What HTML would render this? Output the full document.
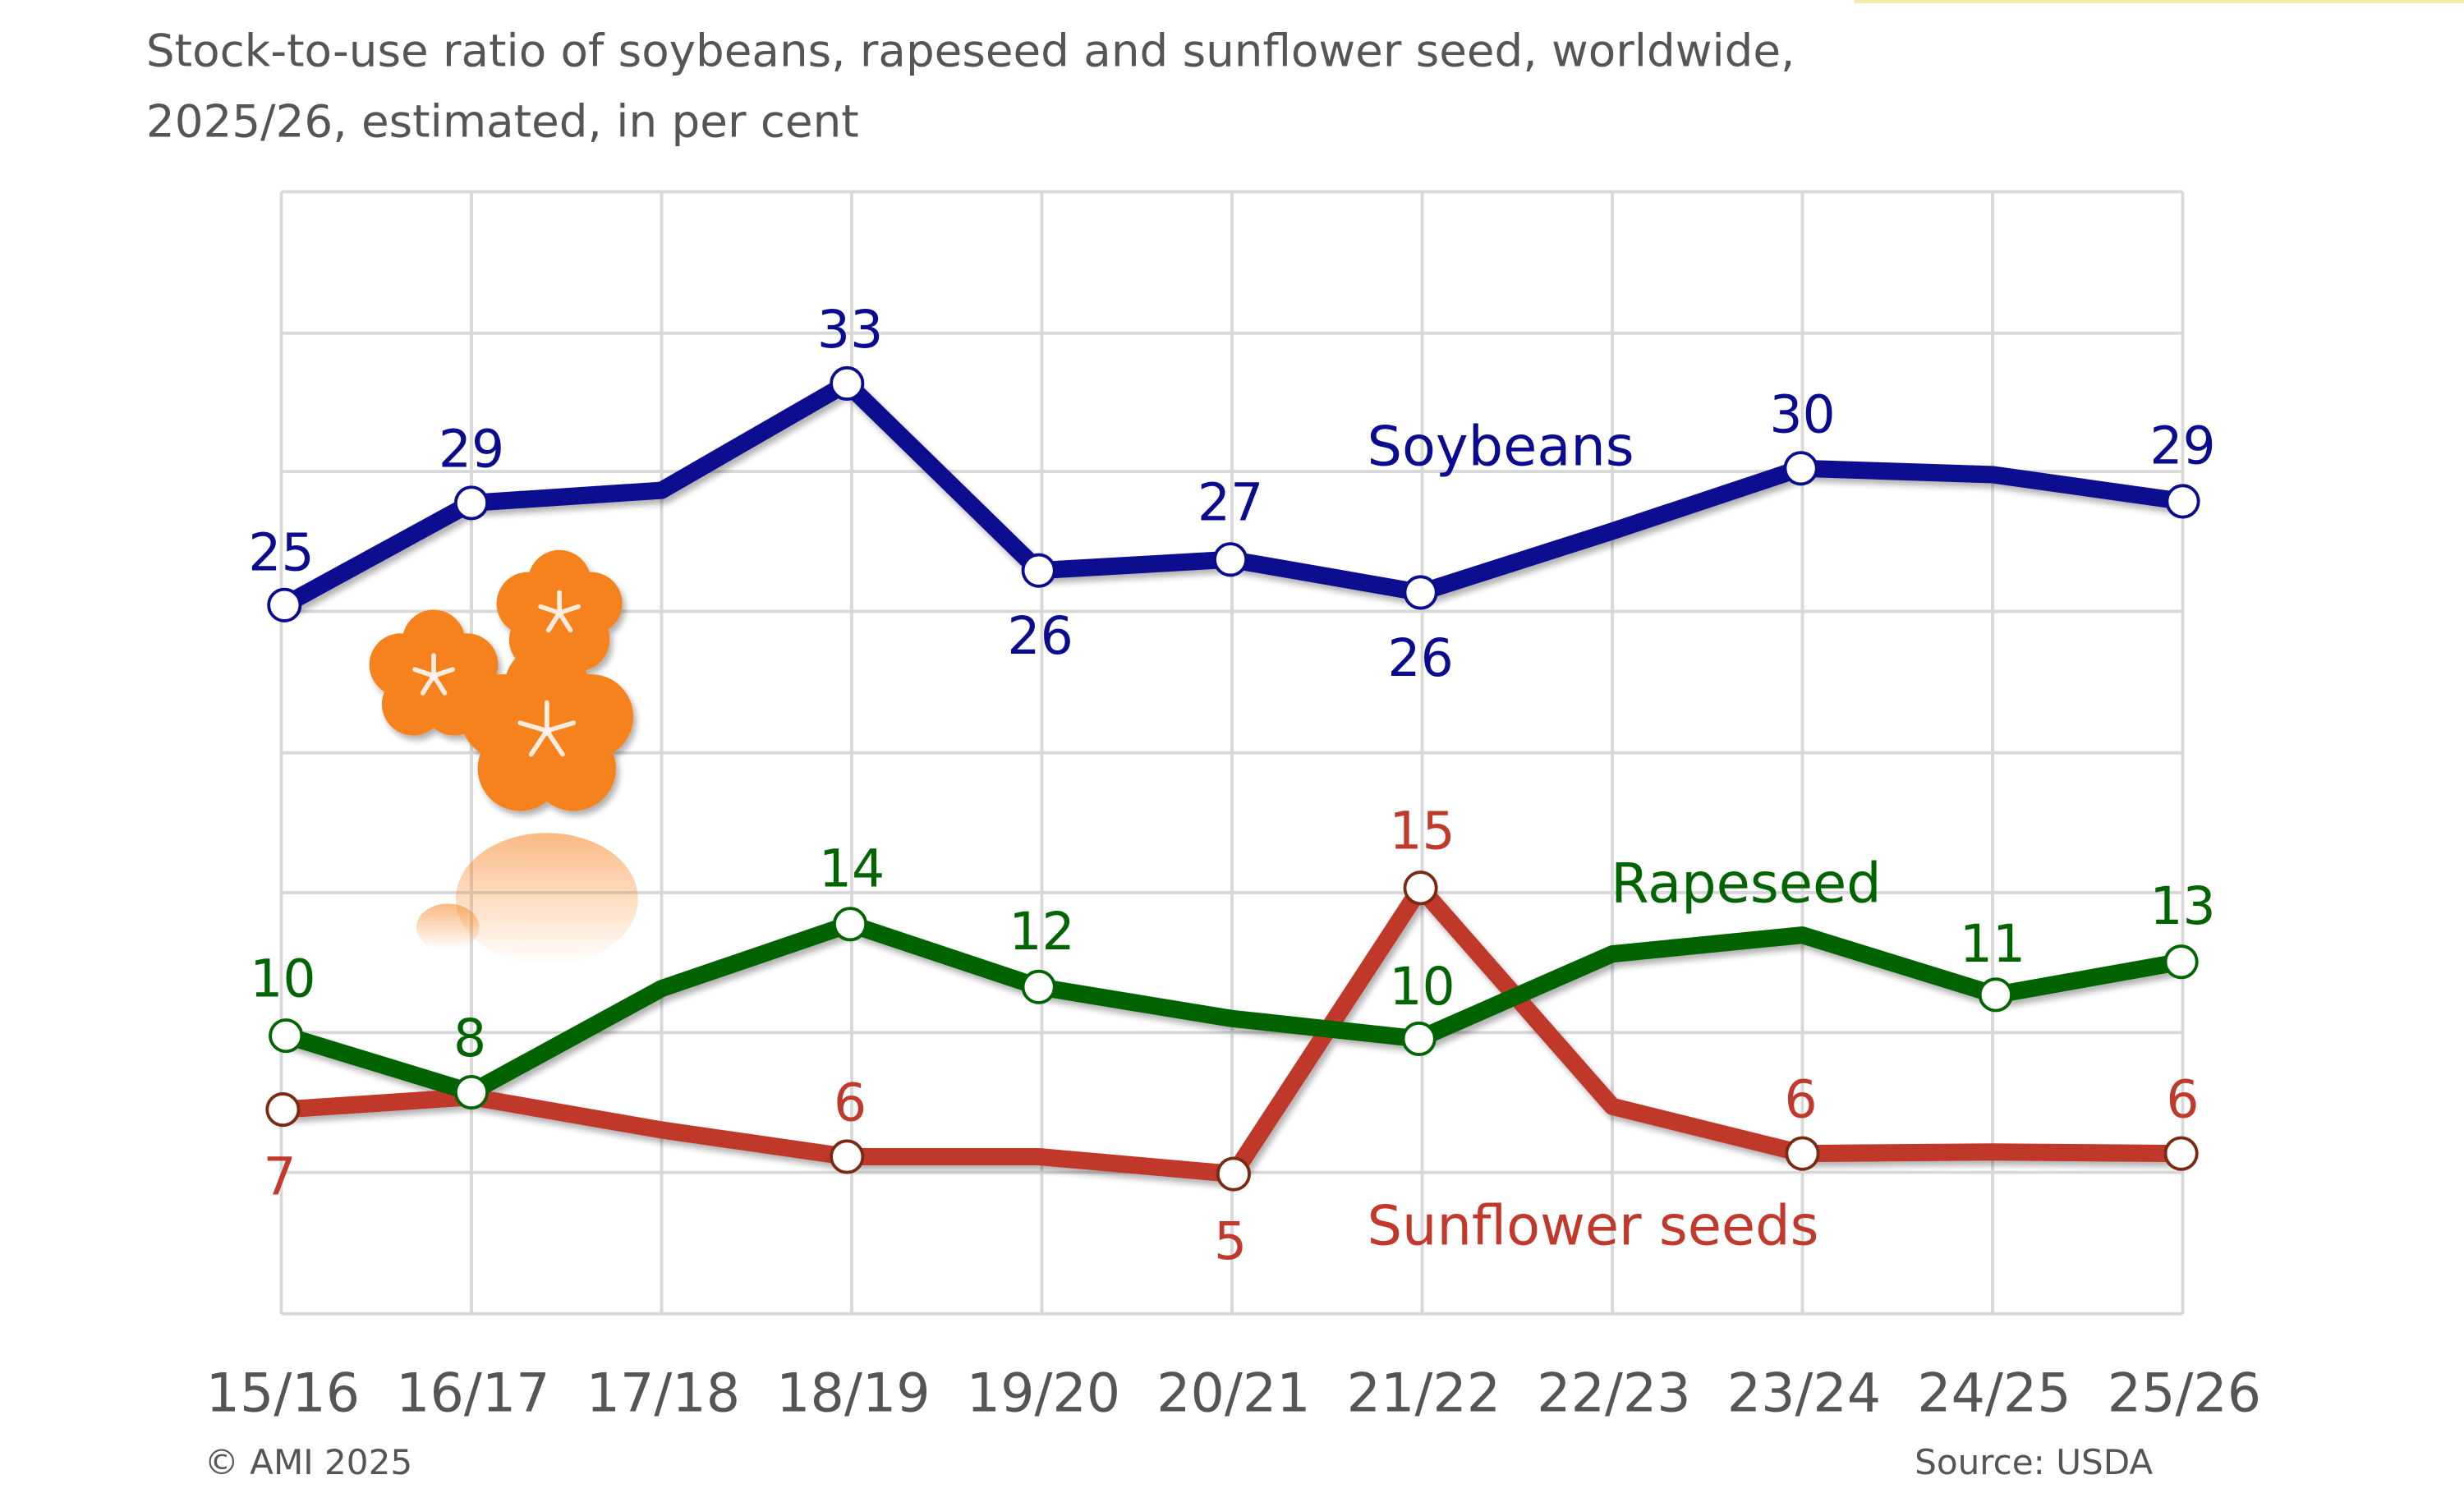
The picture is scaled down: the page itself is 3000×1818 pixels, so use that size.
<!DOCTYPE html>
<html><head><meta charset="utf-8"><style>
html,body{margin:0;padding:0;background:#fff;}
svg{display:block;}
text{font-family:"DejaVu Sans","Liberation Sans",sans-serif;}
</style></head><body>
<svg width="3000" height="1818" viewBox="0 0 1568 950" preserveAspectRatio="none" xmlns="http://www.w3.org/2000/svg">
<defs>
<linearGradient id="fade" x1="0" y1="0" x2="0" y2="1">
<stop offset="0" stop-color="#f5821f" stop-opacity="0.55"/>
<stop offset="1" stop-color="#f5821f" stop-opacity="0"/>
</linearGradient>
<filter id="sh" x="-20%" y="-20%" width="140%" height="140%"><feDropShadow dx="2" dy="3" stdDeviation="2" flood-opacity="0.3"/></filter>
</defs>
<line x1="1180" y1="1" x2="1568" y2="1" stroke="#f3e9a8" stroke-width="2"/>
<text x="93" y="42" font-size="28.6" fill="#555">Stock-to-use ratio of soybeans, rapeseed and sunflower seed, worldwide,</text>
<text x="93" y="87" font-size="28.6" fill="#555">2025/26, estimated, in per cent</text>
<g stroke="#d8d8d8" stroke-width="2">
<line x1="179" y1="122" x2="1389" y2="122"/><line x1="179" y1="212" x2="1389" y2="212"/>
<line x1="179" y1="300" x2="1389" y2="300"/><line x1="179" y1="389" x2="1389" y2="389"/>
<line x1="179" y1="479" x2="1389" y2="479"/><line x1="179" y1="568" x2="1389" y2="568"/>
<line x1="179" y1="657" x2="1389" y2="657"/><line x1="179" y1="746" x2="1389" y2="746"/>
<line x1="179" y1="836" x2="1389" y2="836"/>
<line x1="179" y1="122" x2="179" y2="836"/><line x1="300" y1="122" x2="300" y2="836"/>
<line x1="421" y1="122" x2="421" y2="836"/><line x1="542" y1="122" x2="542" y2="836"/>
<line x1="663" y1="122" x2="663" y2="836"/><line x1="784" y1="122" x2="784" y2="836"/>
<line x1="905" y1="122" x2="905" y2="836"/><line x1="1026" y1="122" x2="1026" y2="836"/>
<line x1="1147" y1="122" x2="1147" y2="836"/><line x1="1268" y1="122" x2="1268" y2="836"/>
<line x1="1389" y1="122" x2="1389" y2="836"/>
</g>
<g fill="#f5821f" filter="url(#sh)">
<g transform="translate(276,430)"><circle cx="0" cy="-22" r="20"/><circle cx="21" cy="-7" r="20"/><circle cx="13" cy="18" r="20"/><circle cx="-13" cy="18" r="20"/><circle cx="-21" cy="-7" r="20"/></g>
<g transform="translate(356,390)"><circle cx="0" cy="-20" r="20"/><circle cx="20" cy="-6" r="20"/><circle cx="12" cy="17" r="20"/><circle cx="-12" cy="17" r="20"/><circle cx="-20" cy="-6" r="20"/></g>
<g transform="translate(348,465)"><circle cx="0" cy="-28" r="27"/><circle cx="28" cy="-9" r="27"/><circle cx="17" cy="24" r="27"/><circle cx="-17" cy="24" r="27"/><circle cx="-28" cy="-9" r="27"/></g>
</g>
<g stroke="#fff" stroke-width="3" stroke-linecap="round" opacity="0.85">
<path d="M348 465 l0 -18 M348 465 l17 -5 M348 465 l10 15 M348 465 l-10 15 M348 465 l-17 -5"/>
<path d="M356 390 l0 -13 M356 390 l12 -4 M356 390 l7 11 M356 390 l-7 11 M356 390 l-12 -4"/>
<path d="M276 430 l0 -13 M276 430 l12 -4 M276 430 l7 11 M276 430 l-7 11 M276 430 l-12 -4"/>
</g>
<g fill="url(#fade)"><ellipse cx="348" cy="572" rx="58" ry="42"/><ellipse cx="285" cy="590" rx="20" ry="15"/></g>
<g fill="none" stroke-width="11" stroke-linejoin="round" stroke-linecap="round" filter="url(#sh)">
<polyline stroke="#c0392b" points="180,706 300,698 421,719 539,736 661,736 785,747 904,565 1026,704 1147,734 1268,733 1388,734"/>
<polyline stroke="#006400" points="182,659 300,695 421,629 541,588 661,628 783,648 903,661 1026,607 1147,595 1270,633 1388,612"/>
<polyline stroke="#0b0b8f" points="181,385 300,320 421,312 539,244 661,363 783,356 904,377 1026,338 1146,298 1268,302 1389,319"/>
</g>
<g fill="#fff" stroke-width="2">
<g stroke="#0b0b8f"><circle cx="181" cy="385" r="10"/><circle cx="300" cy="320" r="10"/><circle cx="539" cy="244" r="10"/><circle cx="661" cy="363" r="10"/><circle cx="783" cy="356" r="10"/><circle cx="904" cy="377" r="10"/><circle cx="1146" cy="298" r="10"/><circle cx="1389" cy="319" r="10"/></g>
<g stroke="#7a2a10"><circle cx="180" cy="706" r="10"/><circle cx="539" cy="736" r="10"/><circle cx="785" cy="747" r="10"/><circle cx="904" cy="565" r="10"/><circle cx="1147" cy="734" r="10"/><circle cx="1388" cy="734" r="10"/></g>
<g stroke="#006400"><circle cx="182" cy="659" r="10"/><circle cx="300" cy="695" r="10"/><circle cx="541" cy="588" r="10"/><circle cx="661" cy="628" r="10"/><circle cx="903" cy="661" r="10"/><circle cx="1270" cy="633" r="10"/><circle cx="1388" cy="612" r="10"/></g>
</g>
<g font-size="33" text-anchor="middle">
<g fill="#0b0b8f"><text x="179" y="363">25</text><text x="300" y="297">29</text><text x="541" y="221">33</text><text x="662" y="416">26</text><text x="783" y="331">27</text><text x="904" y="430">26</text><text x="1147" y="275">30</text><text x="1389" y="295">29</text></g>
<g fill="#006400"><text x="180" y="634">10</text><text x="299" y="672">8</text><text x="542" y="564">14</text><text x="663" y="604">12</text><text x="905" y="639">10</text><text x="1268" y="612">11</text><text x="1389" y="588">13</text></g>
<g fill="#c0392b"><text x="178" y="760">7</text><text x="541" y="713">6</text><text x="783" y="801">5</text><text x="905" y="540">15</text><text x="1146" y="711">6</text><text x="1389" y="711">6</text></g>
</g>
<g font-size="35">
<text x="870" y="296" fill="#0b0b8f">Soybeans</text>
<text x="1025" y="574" fill="#006400">Rapeseed</text>
<text x="870" y="792" fill="#c0392b">Sunflower seeds</text>
</g>
<g font-size="34" fill="#555" text-anchor="middle">
<text x="180" y="898">15/16</text><text x="301" y="898">16/17</text><text x="422" y="898">17/18</text><text x="543" y="898">18/19</text><text x="664" y="898">19/20</text><text x="785" y="898">20/21</text><text x="906" y="898">21/22</text><text x="1027" y="898">22/23</text><text x="1148" y="898">23/24</text><text x="1269" y="898">24/25</text><text x="1390" y="898">25/26</text>
</g>
<text x="130" y="938" font-size="22" fill="#555">© AMI 2025</text>
<text x="1370" y="938" font-size="22" fill="#555" text-anchor="end">Source: USDA</text>
</svg>
</body></html>
